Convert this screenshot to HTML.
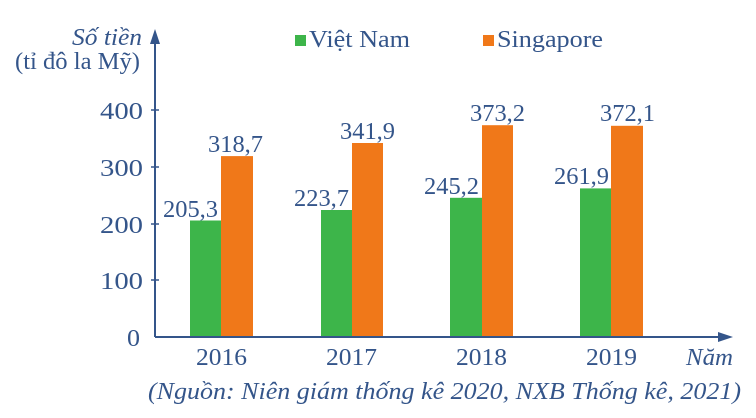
<!DOCTYPE html>
<html><head><meta charset="utf-8"><style>
html,body{margin:0;padding:0;background:#fff;}
svg{display:block;}
text{font-family:"Liberation Serif",serif;fill:#34558a;}
</style></head><body>
<svg width="756" height="418" viewBox="0 0 756 418" xmlns="http://www.w3.org/2000/svg">
<g>
<rect x="190" y="220.5" width="31" height="116.5" fill="#3db54a"/>
<rect x="221" y="156.1" width="32" height="180.9" fill="#f07819"/>
<rect x="321" y="210" width="31" height="127" fill="#3db54a"/>
<rect x="352" y="143" width="31" height="194" fill="#f07819"/>
<rect x="450" y="197.8" width="32" height="139.2" fill="#3db54a"/>
<rect x="482" y="125.2" width="31" height="211.8" fill="#f07819"/>
<rect x="580" y="188.4" width="31" height="148.6" fill="#3db54a"/>
<rect x="611" y="125.8" width="32" height="211.2" fill="#f07819"/>
</g>
<line x1="155" y1="337" x2="155" y2="40" stroke="#34558a" stroke-width="2"/>
<polygon points="155,29 150,44 160,44" fill="#34558a"/>
<line x1="155" y1="337" x2="722" y2="337" stroke="#34558a" stroke-width="2"/>
<polygon points="733,337 718,332 718,342" fill="#34558a"/>
<g stroke="#34558a" stroke-width="1.5">
<line x1="151" y1="280" x2="159" y2="280"/>
<line x1="151" y1="224" x2="159" y2="224"/>
<line x1="151" y1="167" x2="159" y2="167"/>
<line x1="151" y1="110" x2="159" y2="110"/>
</g>
<g font-size="24">
<text x="127" y="346" textLength="13" lengthAdjust="spacingAndGlyphs">0</text>
<text x="100" y="289" textLength="43" lengthAdjust="spacingAndGlyphs">100</text>
<text x="100" y="233" textLength="43" lengthAdjust="spacingAndGlyphs">200</text>
<text x="100" y="176" textLength="43" lengthAdjust="spacingAndGlyphs">300</text>
<text x="100" y="119" textLength="43" lengthAdjust="spacingAndGlyphs">400</text>
<text x="72" y="45" font-style="italic" textLength="70" lengthAdjust="spacingAndGlyphs">Số tiền</text>
<text x="15" y="69" textLength="125" lengthAdjust="spacingAndGlyphs">(tỉ đô la Mỹ)</text>
<text x="196" y="365" textLength="51" lengthAdjust="spacingAndGlyphs">2016</text>
<text x="326" y="365" textLength="51" lengthAdjust="spacingAndGlyphs">2017</text>
<text x="456" y="365" textLength="51" lengthAdjust="spacingAndGlyphs">2018</text>
<text x="586" y="365" textLength="51" lengthAdjust="spacingAndGlyphs">2019</text>
<text x="686" y="365" font-style="italic" textLength="47" lengthAdjust="spacingAndGlyphs">Năm</text>
<text x="163" y="217" textLength="55" lengthAdjust="spacingAndGlyphs">205,3</text>
<text x="208" y="152" textLength="55" lengthAdjust="spacingAndGlyphs">318,7</text>
<text x="294" y="206" textLength="55" lengthAdjust="spacingAndGlyphs">223,7</text>
<text x="340" y="139" textLength="55" lengthAdjust="spacingAndGlyphs">341,9</text>
<text x="424" y="194" textLength="55" lengthAdjust="spacingAndGlyphs">245,2</text>
<text x="470" y="121" textLength="55" lengthAdjust="spacingAndGlyphs">373,2</text>
<text x="554" y="184" textLength="55" lengthAdjust="spacingAndGlyphs">261,9</text>
<text x="600" y="121" textLength="55" lengthAdjust="spacingAndGlyphs">372,1</text>
<text x="309" y="47" textLength="101" lengthAdjust="spacingAndGlyphs">Việt Nam</text>
<text x="497" y="47" textLength="106" lengthAdjust="spacingAndGlyphs">Singapore</text>
<text x="148" y="399" font-style="italic" textLength="593" lengthAdjust="spacingAndGlyphs">(Nguồn: Niên giám thống kê 2020, NXB Thống kê, 2021)</text>
</g>
<rect x="295" y="35" width="11" height="11" fill="#3db54a"/>
<rect x="483" y="35" width="11" height="11" fill="#f07819"/>
</svg>
</body></html>
